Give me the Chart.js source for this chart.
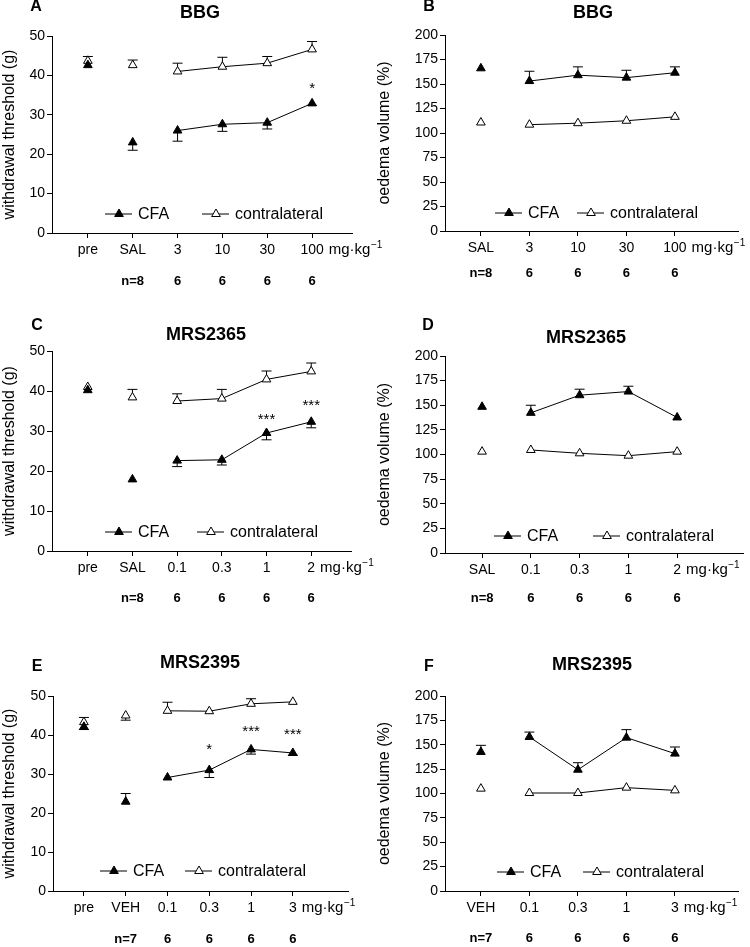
<!DOCTYPE html>
<html>
<head>
<meta charset="utf-8">
<script src="https://cdn.jsdelivr.net/npm/chart.js@4.4.0/dist/chart.umd.min.js"></script>
<style>
    body { margin: 0; background: #fff; width: 750px; height: 947px; position: relative; overflow: hidden; }
    canvas { position: absolute; }
</style>
</head>
<body>
<canvas id="chartA"></canvas>
<canvas id="chartB"></canvas>
<canvas id="chartC"></canvas>
<canvas id="chartD"></canvas>
<canvas id="chartE"></canvas>
<canvas id="chartF"></canvas>
<script>
// series names
const seriesNames = ['CFA', 'contralateral'];

// A: BBG, withdrawal threshold
const catsA = ['pre', 'SAL', '3', '10', '30', '100'];
const cfaA = [42.6, 23.0, 26.0, 27.6, 28.0, 32.9];
const cfaErrA = [0, -2.0, -2.7, -1.8, -1.6, -0.5];
const conA = [43.7, 42.6, 41.0, 42.2, 43.1, 46.6];
const conErrA = [1.1, 1.3, 2.1, 2.4, 1.7, 2.0];
const starsA = ['', '', '', '', '', '*'];
const starLevelA = [null, null, null, null, null, 37.6];
const nA = ['', 'n=8', '6', '6', '6', '6'];

// B: BBG, oedema volume
const catsB = ['SAL', '3', '10', '30', '100'];
const cfaB = [166, 153, 159, 156.5, 161.5];
const cfaErrB = [0, 10, 8.5, 7.5, 6];
const conB = [110.7, 108.5, 110, 112.5, 116.5];
const conErrB = [0, 0, 0, 0, 0];
const nB = ['n=8', '6', '6', '6', '6'];

// C: MRS2365, withdrawal threshold
const catsC = ['pre', 'SAL', '0.1', '0.3', '1', '2'];
const cfaC = [40.2, 17.9, 22.6, 22.8, 29.5, 32.3];
const cfaErrC = [0, 0, -1.5, -1.3, -1.7, -1.5];
const conC = [41.0, 38.4, 37.5, 38.1, 42.9, 44.9];
const conErrC = [0, 2.0, 1.8, 2.3, 2.1, 2.1];
const starsC = ['', '', '', '', '***', '***'];
const starLevelC = [null, null, null, null, 33.7, 37.2];
const nC = ['', 'n=8', '6', '6', '6', '6'];

// D: MRS2365, oedema volume
const catsD = ['SAL', '0.1', '0.3', '1', '2'];
const cfaD = [148.4, 142.3, 160.2, 163.9, 137.6];
const cfaErrD = [0, 7.7, 6.1, 5.4, 0];
const conD = [102.9, 104.6, 101.2, 98.8, 102.9];
const conErrD = [0, 0, 0, 0, 0];
const nD = ['n=8', '6', '6', '6', '6'];

// E: MRS2395, withdrawal threshold
const catsE = ['pre', 'VEH', '0.1', '0.3', '1', '3'];
const cfaE = [42.1, 22.9, 29.1, 31.0, 36.3, 35.4];
const cfaErrE = [-0.7, 2.1, 0, -1.9, -1.2, -0.6];
const conE = [43.3, 45.0, 46.2, 46.1, 48.0, 48.5];
const conErrE = [1.2, -1.2, 2.2, 0, 1.3, 0];
const starsE = ['', '', '', '*', '***', '***'];
const starLevelE = [null, null, null, 37.2, 41.8, 41.0];
const nE = ['', 'n=7', '6', '6', '6', '6'];

// F: MRS2395, oedema volume
const catsF = ['VEH', '0.1', '0.3', '1', '3'];
const cfaF = [142.6, 158, 124.4, 157.3, 140.9];
const cfaErrF = [6.8, 5, 7.2, 8.2, 6.8];
const conF = [105, 100.5, 100.5, 106, 103.2];
const conErrF = [0, 0, 0, 0, 0];
const nF = ['n=7', '6', '6', '6', '6'];

const FONT = "'Liberation Sans', Arial, Helvetica, sans-serif";
const thresholdAxis = { title: 'withdrawal threshold (g)', max: 50, step: 10 };
const oedemaAxis = { title: 'oedema volume (%)', max: 200, step: 25 };

function triangle(ctx, x, y, r) {
    ctx.beginPath();
    ctx.moveTo(x, y - r);
    ctx.lineTo(x + 0.866 * r, y + 0.5 * r);
    ctx.lineTo(x - 0.866 * r, y + 0.5 * r);
    ctx.closePath();
    ctx.fill();
    ctx.stroke();
}

function decor(p) {
    return {
        id: 'decor',
        beforeDatasetsDraw(chart) {
            const { ctx, scales: { x, y } } = chart;
            ctx.save();
            ctx.strokeStyle = '#000';
            ctx.lineWidth = 1;
            [[p.cfa, p.cfaErr], [p.con, p.conErr]].forEach(([vals, errs]) => {
                vals.forEach((v, i) => {
                    const e = errs[i];
                    if (!e) return;
                    const px = x.getPixelForValue(i);
                    const y0 = y.getPixelForValue(v);
                    const y1 = y.getPixelForValue(v + e);
                    ctx.beginPath();
                    ctx.moveTo(px, y0); ctx.lineTo(px, y1);
                    ctx.moveTo(px - 5, y1); ctx.lineTo(px + 5, y1);
                    ctx.stroke();
                });
            });
            ctx.restore();
        },
        afterDraw(chart) {
            const { ctx, chartArea, scales: { x, y } } = chart;
            ctx.save();
            ctx.fillStyle = '#000';
            ctx.strokeStyle = '#000';
            ctx.lineWidth = 1;

            // significance stars
            ctx.font = '15px ' + FONT;
            ctx.textAlign = 'center';
            ctx.textBaseline = 'middle';
            (p.stars || []).forEach((s, i) => {
                if (!s) return;
                ctx.fillText(s, x.getPixelForValue(i), y.getPixelForValue(p.starLevel[i]) + 4);
            });

            // legend inside plot
            const ly = chartArea.bottom - p.legendDy;
            p.legendX.forEach((lx, k) => {
                const x0 = chartArea.left + lx;
                ctx.beginPath();
                ctx.moveTo(x0, ly); ctx.lineTo(x0 + 27, ly);
                ctx.stroke();
                ctx.fillStyle = k === 0 ? '#000' : '#fff';
                triangle(ctx, x0 + 14, ly, 5);
                ctx.fillStyle = '#000';
                ctx.font = '16px ' + FONT;
                ctx.textAlign = 'left';
                ctx.fillText(seriesNames[k], x0 + 33, ly + 1);
            });

            // n row
            ctx.font = 'bold 13px ' + FONT;
            ctx.textAlign = 'center';
            p.n.forEach((t, i) => {
                if (t) ctx.fillText(t, x.getPixelForValue(i), p.nY);
            });

            // unit after last tick label
            ctx.font = '14px ' + FONT;
            const last = p.cats.length - 1;
            const ux = x.getPixelForValue(last) + ctx.measureText(p.cats[last]).width / 2 + 5;
            const uy = chartArea.bottom + 17;
            ctx.font = '15px ' + FONT;
            ctx.textAlign = 'left';
            ctx.fillText('mg·kg', ux, uy);
            const w = ctx.measureText('mg·kg').width;
            ctx.font = '10px ' + FONT;
            ctx.fillText('\u22121', ux + w + 0.5, uy - 5);

            // title and panel letter
            ctx.textAlign = 'center';
            ctx.font = 'bold 18px ' + FONT;
            ctx.fillText(p.title, p.titleX, p.titleY);
            ctx.font = 'bold 16px ' + FONT;
            ctx.fillText(p.letter, p.letterX, p.letterY);
            ctx.restore();
        }
    };
}

function buildPanel(p) {
    const canvas = document.getElementById(p.id);
    canvas.width = p.w;
    canvas.height = p.h;
    canvas.style.left = p.left + 'px';
    canvas.style.top = p.top + 'px';
    const toPts = vals => vals.map((v, i) => ({ x: i, y: v }));
    const segColor = ctx => ctx.p0DataIndex < p.doseStart ? 'rgba(0,0,0,0)' : '#000';
    new Chart(canvas, {
        type: 'line',
        data: {
            datasets: [{
                label: seriesNames[0],
                data: toPts(p.cfa),
                borderColor: '#000',
                borderWidth: 1,
                pointStyle: 'triangle',
                pointRadius: 5,
                pointBorderWidth: 1,
                pointBackgroundColor: '#000',
                pointBorderColor: '#000',
                segment: { borderColor: segColor }
            }, {
                label: seriesNames[1],
                data: toPts(p.con),
                borderColor: '#000',
                borderWidth: 1,
                pointStyle: 'triangle',
                pointRadius: 5,
                pointBorderWidth: 1,
                pointBackgroundColor: '#fff',
                pointBorderColor: '#000',
                segment: { borderColor: segColor }
            }]
        },
        options: {
            responsive: false,
            animation: false,
            events: [],
            layout: { padding: { left: 0, top: p.padTop, right: p.padRight, bottom: 0 } },
            plugins: { legend: { display: false }, tooltip: { enabled: false } },
            scales: {
                x: {
                    type: 'linear',
                    min: p.xMin,
                    max: p.xMax,
                    afterFit: s => { s.height = p.xH; },
                    afterBuildTicks: s => { s.ticks = p.cats.map((c, i) => ({ value: i })); },
                    ticks: {
                        callback: v => p.cats[v],
                        autoSkip: false,
                        maxRotation: 0,
                        padding: 4,
                        color: '#000',
                        font: { family: FONT, size: 14 }
                    },
                    grid: { drawOnChartArea: false, drawTicks: true, tickLength: 5, color: '#000' },
                    border: { display: true, color: '#000', width: 1 }
                },
                y: {
                    min: 0,
                    max: p.axis.max,
                    afterFit: s => { s.width = p.yW; },
                    ticks: {
                        stepSize: p.axis.step,
                        padding: 2,
                        color: '#000',
                        font: { family: FONT, size: 14 }
                    },
                    grid: { drawOnChartArea: false, drawTicks: true, tickLength: 5, color: '#000' },
                    border: { display: true, color: '#000', width: 1 },
                    title: {
                        display: true,
                        text: p.axis.title,
                        color: '#000',
                        padding: { top: 0, bottom: 0 },
                        font: { family: FONT, size: 16 }
                    }
                }
            }
        },
        plugins: [decor(p)]
    });
}

document.addEventListener('DOMContentLoaded', () => {
    buildPanel({
        id: 'chartA', left: 0, top: 0, w: 400, h: 310,
        yW: 52, padTop: 36, padRight: 48, xH: 77, xMin: -0.8, xMax: 5.89,
        axis: thresholdAxis, cats: catsA, cfa: cfaA, cfaErr: cfaErrA, con: conA, conErr: conErrA,
        stars: starsA, starLevel: starLevelA, n: nA, nY: 281, doseStart: 2,
        legendDy: 19, legendX: [53, 150],
        title: 'BBG', titleX: 200, titleY: 13, letter: 'A', letterX: 36, letterY: 7
    });
    buildPanel({
        id: 'chartB', left: 375, top: 0, w: 375, h: 310,
        yW: 70, padTop: 35, padRight: 12, xH: 79, xMin: -0.74, xMax: 5.3,
        axis: oedemaAxis, cats: catsB, cfa: cfaB, cfaErr: cfaErrB, con: conB, conErr: conErrB,
        n: nB, nY: 273, doseStart: 1,
        legendDy: 18, legendX: [50, 132],
        title: 'BBG', titleX: 218, titleY: 13, letter: 'B', letterX: 54, letterY: 7
    });
    buildPanel({
        id: 'chartC', left: 0, top: 310, w: 400, h: 320,
        yW: 52, padTop: 41, padRight: 49, xH: 79, xMin: -0.8, xMax: 5.89,
        axis: thresholdAxis, cats: catsC, cfa: cfaC, cfaErr: cfaErrC, con: conC, conErr: conErrC,
        stars: starsC, starLevel: starLevelC, n: nC, nY: 288, doseStart: 2,
        legendDy: 19, legendX: [53, 145],
        title: 'MRS2365', titleX: 206, titleY: 25, letter: 'C', letterX: 37, letterY: 16
    });
    buildPanel({
        id: 'chartD', left: 375, top: 310, w: 375, h: 320,
        yW: 70, padTop: 46, padRight: 7, xH: 77, xMin: -0.76, xMax: 5.35,
        axis: oedemaAxis, cats: catsD, cfa: cfaD, cfaErr: cfaErrD, con: conD, conErr: conErrD,
        n: nD, nY: 288, doseStart: 1,
        legendDy: 17, legendX: [49, 148],
        title: 'MRS2365', titleX: 211, titleY: 28, letter: 'D', letterX: 53, letterY: 16
    });
    buildPanel({
        id: 'chartE', left: 0, top: 630, w: 400, h: 317,
        yW: 53, padTop: 66, padRight: 52, xH: 56, xMin: -0.74, xMax: 6.32,
        axis: thresholdAxis, cats: catsE, cfa: cfaE, cfaErr: cfaErrE, con: conE, conErr: conErrE,
        stars: starsE, starLevel: starLevelE, n: nE, nY: 309, doseStart: 2,
        legendDy: 20, legendX: [47, 132],
        title: 'MRS2395', titleX: 200, titleY: 33, letter: 'E', letterX: 37, letterY: 37
    });
    buildPanel({
        id: 'chartF', left: 375, top: 630, w: 375, h: 317,
        yW: 70, padTop: 66, padRight: 12, xH: 56, xMin: -0.74, xMax: 5.3,
        axis: oedemaAxis, cats: catsF, cfa: cfaF, cfaErr: cfaErrF, con: conF, conErr: conErrF,
        n: nF, nY: 308, doseStart: 1,
        legendDy: 19, legendX: [52, 138],
        title: 'MRS2395', titleX: 217, titleY: 35, letter: 'F', letterX: 54, letterY: 37
    });
});
</script>
</body>
</html>
